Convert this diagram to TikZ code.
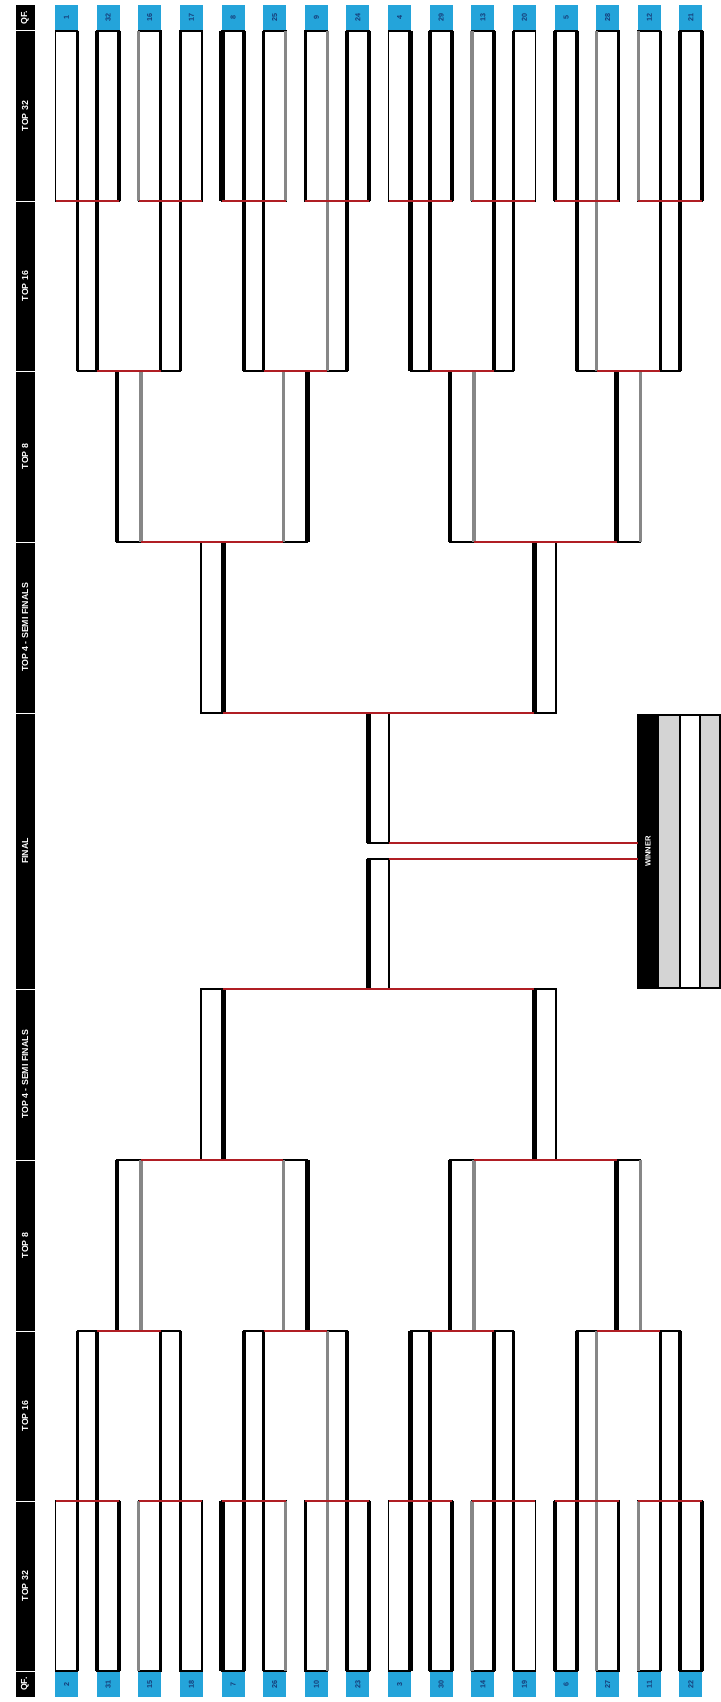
\documentclass[tikz,border=0pt]{standalone}
\usepackage{graphicx}
\usepackage{fontspec}
\setmainfont{Liberation Sans}

\definecolor{seedblue}{RGB}{36,164,218}
\definecolor{seedink}{RGB}{22,60,120}
\definecolor{linkred}{RGB}{176,30,36}
\definecolor{bargray}{RGB}{135,135,135}
\definecolor{wingray}{RGB}{212,212,212}

\tikzset{
  slot/.style={draw=black,line width=0.9pt,fill=white,inner sep=0pt,outer sep=0pt},
  seed/.style={fill=seedblue,inner sep=0pt,outer sep=0pt,minimum width=11.5pt,minimum height=12.5pt,
    text=seedink,font=\fontsize{3.6}{4}\selectfont\bfseries},
  hdr/.style={fill=black,draw=white,line width=0.5pt,inner sep=0pt,outer sep=0pt,minimum width=10pt,
    text=white,font=\fontsize{4.4}{5}\selectfont\bfseries},
  redlink/.style={draw=linkred,line width=1.3pt},
  side-n/.style={draw=none},
  side-k/.style={draw=black,line width=1.7pt},
  side-K/.style={draw=black,line width=2.6pt},
  side-g/.style={draw=bargray,line width=1.7pt},
  winstrip/.style={draw=black,line width=0.8pt,inner sep=0pt,outer sep=0pt,minimum height=136.5pt},
}

% one half of the bracket: #1 prefix, #2 +1 top / -1 bottom,
% #3 #4 the anchors that face the final, #5 the seeds in order
\newcommand{\bracketside}[5]{%
  \foreach \sd [count=\n] in {#5} {
    \pgfmathsetmacro\cx{66.5+41.63*(\n-1)}
    \node[seed] (#1s\n) at (\cx,{851+#2*(17.5-851)}) {\rotatebox{90}{\sd}};
  }
  % top 32
  \foreach \l/\r [count=\n] in {n/k,k/k,g/k,k/n,K/k,k/g,k/g,k/k,n/K,k/k,g/k,k/n,k/k,g/k,g/k,k/k} {
    \pgfmathsetmacro\cx{66.5+41.63*(\n-1)}
    \node[slot,minimum width=11pt,minimum height=85pt] (#1a\n) at (\cx,{851+#2*(116-851)}) {};
    \draw[side-\l] (#1a\n.north west) -- (#1a\n.south west);
    \draw[side-\r] (#1a\n.north east) -- (#1a\n.south east);
  }
  % top 16
  \foreach \l/\r [count=\n] in {k/k,k/k,k/k,g/k,K/k,k/k,k/g,k/k} {
    \pgfmathsetmacro\cx{66.5+41.63*(2*\n-1.5)}
    \node[slot,minimum width=9.8pt,minimum height=85pt] (#1b\n) at (\cx,{851+#2*(286-851)}) {};
    \draw[side-\l] (#1b\n.north west) -- (#1b\n.south west);
    \draw[side-\r] (#1b\n.north east) -- (#1b\n.south east);
  }
  % top 8
  \foreach \l/\r [count=\n] in {k/g,g/K,k/g,K/g} {
    \pgfmathsetmacro\cx{66.5+41.63*(4*\n-2.5)}
    \node[slot,minimum width=12pt,minimum height=85.5pt] (#1c\n) at (\cx,{851+#2*(456.5-851)}) {};
    \draw[side-\l] (#1c\n.north west) -- (#1c\n.south west);
    \draw[side-\r] (#1c\n.north east) -- (#1c\n.south east);
  }
  % semi finals
  \foreach \l/\r [count=\n] in {n/K,K/n} {
    \pgfmathsetmacro\cx{66.5+41.63*(8*\n-4.5)}
    \node[slot,minimum width=11pt,minimum height=85.5pt] (#1d\n) at (\cx,{851+#2*(627.5-851)}) {};
    \draw[side-\l] (#1d\n.north west) -- (#1d\n.south west);
    \draw[side-\r] (#1d\n.north east) -- (#1d\n.south east);
  }
  % final
  \node[slot,minimum width=10.5pt,minimum height=65pt] (#1f) at (378.7,{851+#2*(778-851)}) {};
  \draw[side-K] (#1f.north west) -- (#1f.south west);
  % red links, last so they sit on top
  \foreach \a [evaluate=\a as \b using int(\a+1)] in {1,3,...,15}
    \draw[redlink] (#1a\a.#3) -- (#1a\b.#4);
  \foreach \a [evaluate=\a as \b using int(\a+1)] in {1,3,5,7}
    \draw[redlink] (#1b\a.#4) -- (#1b\b.#3);
  \foreach \a [evaluate=\a as \b using int(\a+1)] in {1,3}
    \draw[redlink] (#1c\a.#4) -- (#1c\b.#3);
  \draw[redlink] (#1d1.#4) -- (#1d2.#3);
  \draw[redlink] (#1f.#4) -- (#1f.#4 -| win.west);
}

\begin{document}
\begin{tikzpicture}[x=0.5pt,y=-0.5pt]
\useasboundingbox (0,0) rectangle (721,1702);

% round headers down the left
\foreach \nm/\cy/\hh/\txt in {q1/18/13/QF., r1/116/85/TOP 32, s1/286/85/TOP 16,
    t1/456.5/85.5/TOP 8, u1/627.5/85.5/TOP 4 - SEMI FINALS, fin/851/138/FINAL,
    u2/1074.5/85.5/TOP 4 - SEMI FINALS, t2/1245.5/85.5/TOP 8, s2/1416/85/TOP 16,
    r2/1586/85/TOP 32, q2/1684/13/QF.}
  \node[hdr,minimum height=\hh pt] (h\nm) at (25,\cy) {\rotatebox{90}{\txt}};

% winner box
\node[winstrip,fill=black,minimum width=10pt] (win) at (648,851.5)
  {\rotatebox{90}{\color{white}\fontsize{3.8}{4}\selectfont\bfseries WINNER}};
\node[winstrip,fill=wingray,minimum width=11pt] (win2) at (669,851.5) {};
\node[winstrip,fill=white,minimum width=10pt] (win3) at (690,851.5) {};
\node[winstrip,fill=wingray,minimum width=10pt] (win4) at (710,851.5) {};

\bracketside{t}{1}{south west}{south east}{1,32,16,17,8,25,9,24,4,29,13,20,5,28,12,21}
\bracketside{b}{(-1)}{north west}{north east}{2,31,15,18,7,26,10,23,3,30,14,19,6,27,11,22}
\end{tikzpicture}
\end{document}
